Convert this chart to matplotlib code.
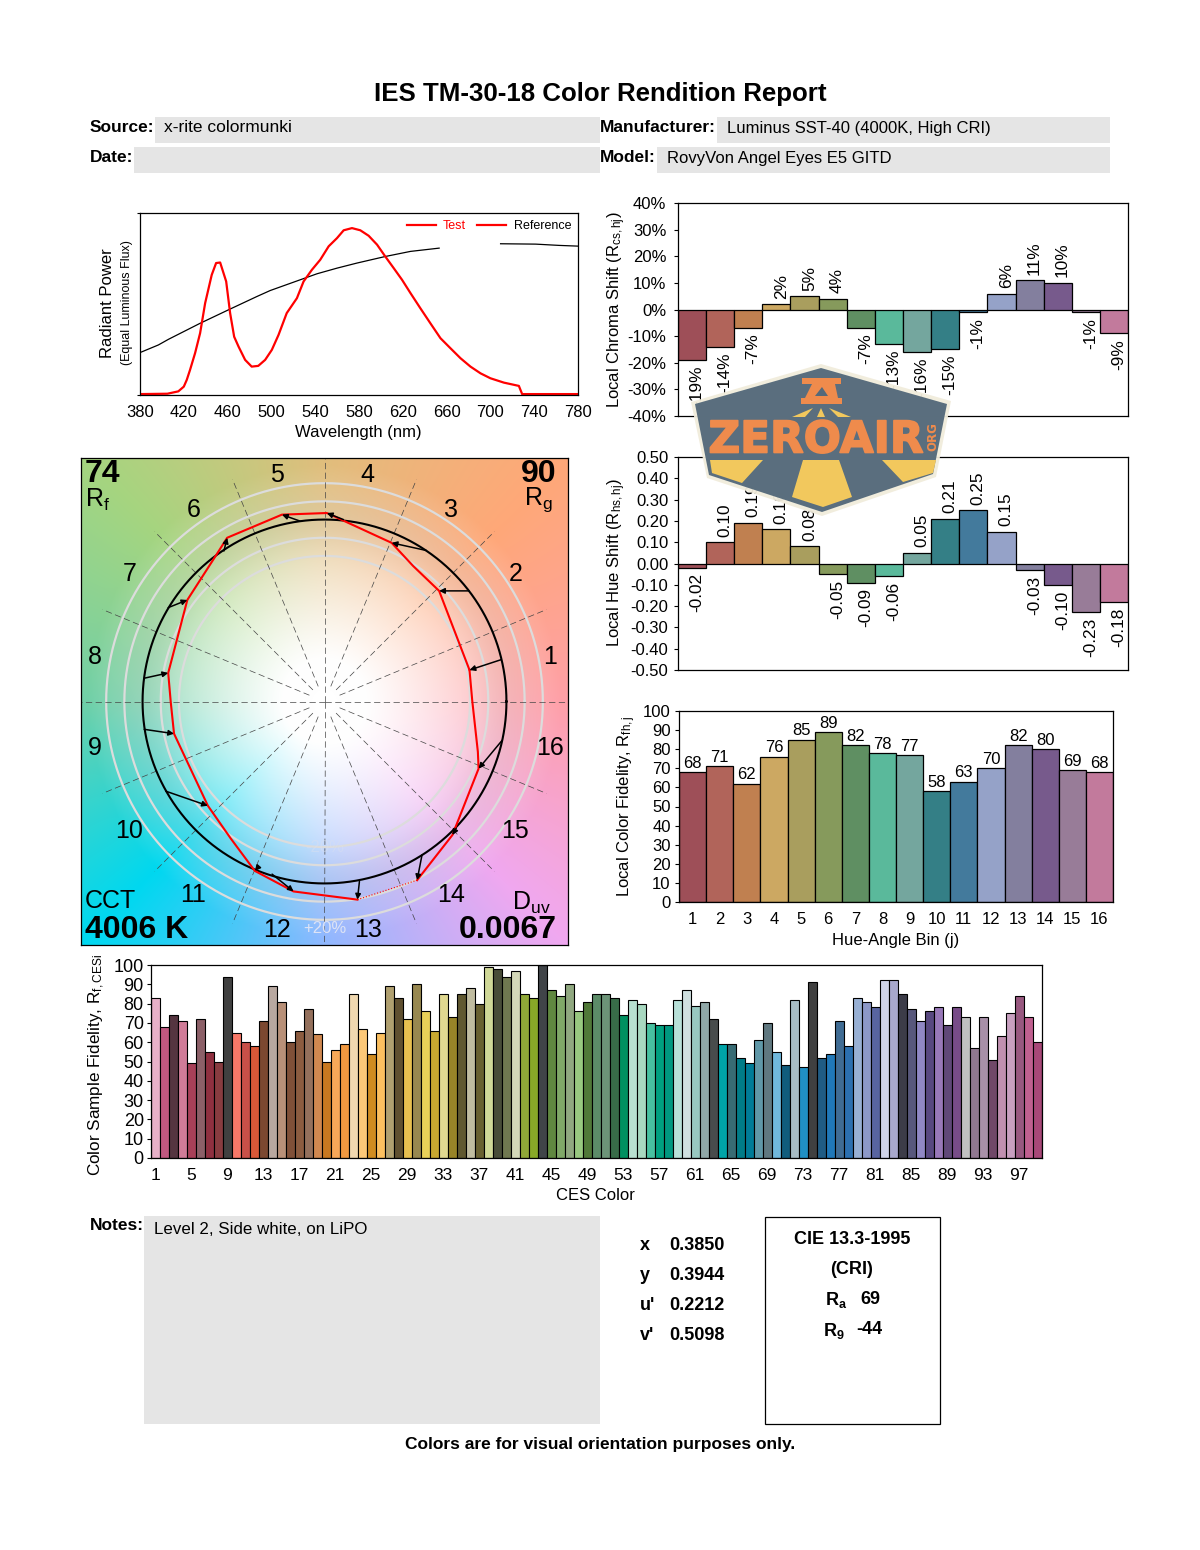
#!/usr/bin/env python3
# TM-30 colour rendition report page, all panels placed by pixel position
import numpy as np
import matplotlib
matplotlib.use("Agg")
import matplotlib.pyplot as plt
import matplotlib.patheffects as pe
from matplotlib.lines import Line2D
from matplotlib.patches import Polygon, Rectangle

plt.rcParams['font.family'] = ['Liberation Sans', 'DejaVu Sans']
plt.rcParams['mathtext.fontset'] = 'custom'
plt.rcParams['mathtext.rm'] = 'Liberation Sans'
plt.rcParams['mathtext.it'] = 'Liberation Sans:italic'
plt.rcParams['mathtext.bf'] = 'Liberation Sans:bold'
plt.rcParams['mathtext.default'] = 'rm'
plt.rcParams['axes.linewidth'] = 0.9

W, H = 1200, 1550

# spectrum
test_nm = [380, 405, 415, 420, 422.7, 425.7, 430.3, 434.9, 439.5, 445.5, 449.5, 453.2, 458.7, 462.3, 466, 470,
           476, 482, 488, 494.3, 500.4, 506.5, 514, 523.3, 529.4, 537, 544.6, 552.3, 559.9, 566, 573.6, 581.2,
           588.8, 596.5, 604, 611.7, 619.3, 627, 636, 645.2, 654.4, 663.5, 672.7, 681.8, 691, 700, 712.3, 726,
           729, 780]
test_power = [0.5, 0.7, 2, 4.6, 8.3, 13.8, 23, 34, 50.5, 66, 72.5, 72.8, 62.4, 45, 32, 26.6,
              19.3, 15.6, 16, 19.3, 24.8, 33, 45, 53.2, 62.4, 68.8, 74.3, 81.7, 86.2, 90.5, 91.7, 90.5,
              87.5, 82.6, 76.1, 69.7, 63.3, 56, 47.7, 39.4, 31.2, 25.7, 20.2, 15.6, 11.9, 9.2, 6.8, 5,
              0.5, 0.5]
ref_nm = [380, 396.8, 406, 434.9, 460.8, 486.7, 498.9, 526.3, 541.6, 559.9, 578.2, 604, 627, 653.2,
          680, 709.3, 741.3, 762.7, 780]
ref_power = [23.3, 27.5, 30.6, 39.4, 46.8, 54.1, 57.4, 63.3, 66.6, 69.7, 72.5, 76.1, 78.9, 80.7,
             np.nan, 83.1, 82.9, 82.2, 81.8]
wave_ticks = list(range(380, 781, 40))

# 16 hue bins
bins = list(range(1, 17))
bin_colors = ['#9e4f58', '#b1645a', '#c08050', '#cca862', '#a99e5e', '#869a5c', '#5f8f62', '#5ab99b',
              '#74a69e', '#347f86', '#437a9c', '#95a2c8', '#837f9e', '#775a8c', '#987c98', '#c27a9c']
chroma_shift = [-19, -14, -7, 2, 5, 4, -7, -13, -16, -15, -1, 6, 11, 10, -1, -9]
hue_shift = [-0.02, 0.10, 0.19, 0.16, 0.08, -0.05, -0.09, -0.06, 0.05, 0.21, 0.25, 0.15, -0.03, -0.10, -0.23, -0.18]
local_fidelity = [68, 71, 62, 76, 85, 89, 82, 78, 77, 58, 63, 70, 82, 80, 69, 68]

chroma_ticks = [-40, -30, -20, -10, 0, 10, 20, 30, 40]
chroma_ticklabels = ['-40%', '-30%', '-20%', '-10%', '0%', '10%', '20%', '30%', '40%']
hue_ticks = [-0.5, -0.4, -0.3, -0.2, -0.1, 0, 0.1, 0.2, 0.3, 0.4, 0.5]
hue_ticklabels = ['-0.50', '-0.40', '-0.30', '-0.20', '-0.10', '0.00', '0.10', '0.20', '0.30', '0.40', '0.50']

# 99 CES samples
ces_fidelity = [83, 68, 74, 71, 49, 72, 55, 50, 94, 65, 60, 58, 71, 89, 81, 60, 66, 77, 64, 50,
                56, 59, 85, 67, 54, 65, 89, 83, 72, 90, 76, 66, 85, 73, 85, 88, 80, 99, 98, 94,
                97, 85, 83, 100, 87, 84, 90, 76, 81, 85, 85, 83, 74, 82, 80, 70, 69, 69, 82, 87,
                79, 81, 72, 59, 59, 52, 49, 61, 70, 55, 48, 82, 47, 91, 52, 54, 71, 58, 83, 81,
                78, 92, 92, 85, 77, 71, 76, 78, 69, 78, 73, 57, 73, 51, 63, 75, 84, 73, 60]
ces_colors = ['#e8b0c8', '#c05880', '#553540', '#d07c98', '#a84058', '#8c6068', '#8f3040', '#883c40', '#404040',
              '#f87868', '#c85048', '#d85838', '#7c4830', '#b8a8a0', '#b89078', '#805038', '#8c5c40', '#94705c',
              '#d08850', '#c87820', '#f8a858', '#f09840', '#f0d8b0', '#fcc878', '#d08c20', '#fcc060', '#b0a070',
              '#605030', '#e8c050', '#988850', '#e8d058', '#c8a830', '#e0d890', '#988428', '#605830', '#c0bca0',
              '#686030', '#d0d898', '#484c38', '#707850', '#d4d8b8', '#90a838', '#88a828', '#404448', '#608840',
              '#80a868', '#90a880', '#98c880', '#507838', '#5c8c68', '#6c9478', '#386c48', '#009060', '#b8e0d0',
              '#a8d8c0', '#48c0a0', '#00a080', '#009880', '#b8e0d8', '#d0e0e0', '#98c8c0', '#90a8a8', '#484c4c',
              '#00a4a8', '#386c74', '#007c88', '#007c98', '#6098a8', '#607880', '#70b8dc', '#105c7c', '#a8bcc4',
              '#2090c4', '#404040', '#205c84', '#2078b8', '#406c94', '#2c70b0', '#98b0d4', '#8c98c8', '#5864a0',
              '#d0d4e8', '#a8a8cc', '#3c3c48', '#58587c', '#9088c4', '#584880', '#9878b8', '#604878', '#784c88',
              '#c0c0c0', '#907890', '#a890a8', '#704868', '#c090b0', '#c8a0c0', '#985880', '#c06090', '#a84878']
ces_ticks = list(range(1, 98, 4))

# colour vector graphic, reference circle radius = 1
arrow_from_x = [0.971, 0.794, 0.560, 0.104, -0.133, -0.553, -0.859, -0.991, -0.991, -0.872, -0.370, -0.288, 0.192, 0.536, 0.724, 0.976]
arrow_from_y = [0.230, 0.608, 0.830, 1.000, 0.991, 0.827, 0.516, 0.128, -0.153, -0.493, -0.916, -0.949, -0.989, -0.843, -0.697, -0.214]
arrow_to_x = [0.797, 0.630, 0.369, 0.013, -0.234, -0.535, -0.754, -0.859, -0.827, -0.641, -0.383, -0.170, 0.181, 0.509, 0.703, 0.847]
arrow_to_y = [0.173, 0.608, 0.872, 1.036, 1.027, 0.900, 0.558, 0.157, -0.177, -0.573, -0.931, -1.044, -1.089, -0.982, -0.734, -0.369]
test_x = [0.797, 0.630, 0.487, 0.369, 0.013, -0.234, -0.535, -0.599, -0.754, -0.859, -0.845, -0.827, -0.641, -0.516,
          -0.383, -0.170, 0.181]
test_y = [0.173, 0.608, 0.745, 0.872, 1.036, 1.027, 0.900, 0.799, 0.558, 0.157, -0.004, -0.177, -0.573, -0.752,
          -0.931, -1.044, -1.089]
test_x2 = [0.509, 0.703, 0.847, 0.843, 0.812, 0.797]
test_y2 = [-0.982, -0.734, -0.369, -0.277, 0.005, 0.173]
ring_radii = [0.8, 0.9, 1.1, 1.2]
hue_anchor_deg = [0, 45, 90, 135, 180, 225, 270, 315, 360]
hue_anchor_rgb = [(255, 160, 168), (255, 168, 120), (225, 190, 125), (165, 213, 128), (112, 208, 168),
                  (0, 216, 240), (144, 184, 255), (240, 168, 240), (255, 160, 168)]

fig = plt.figure(figsize=(W / 100, H / 100), dpi=100, facecolor='white')


def ax_px(left, top, right, bottom, **kw):
    return fig.add_axes([left / W, 1 - bottom / H, (right - left) / W, (bottom - top) / H], **kw)


def put(x, y, s, size=12, ha='left', va='center', **kw):
    # matplotlib centres on the full text box, so nudge to sit where the reference does
    if kw.get('rotation') == 90:
        x += 3
    else:
        y += 2
    return fig.text(x / W, 1 - y / H, s, fontsize=size, ha=ha, va=va, **kw)


# page layer for the grey boxes
page = ax_px(0, 0, W, H, zorder=-1)
page.set_xlim(0, W)
page.set_ylim(H, 0)
page.axis('off')
for (x0, y0, x1, y1) in [(155, 117, 600, 143), (134, 147, 600, 173), (717, 117, 1110, 143),
                         (657, 147, 1110, 173), (144, 1216, 600, 1424)]:
    page.add_patch(Rectangle((x0, y0), x1 - x0, y1 - y0, fc='#e5e5e5', ec='none'))
page.add_patch(Rectangle((765, 1217), 175, 207, fc='white', ec='black', lw=0.9))

put(600, 92, 'IES TM-30-18 Color Rendition Report', size=18.6, ha='center', fontweight='bold')
put(90, 126, 'Source:', size=12.5, fontweight='bold')
put(164, 126, 'x-rite colormunki', size=12.5)
put(90, 156, 'Date:', size=12.5, fontweight='bold')
put(600, 126, 'Manufacturer:', size=12.5, fontweight='bold')
put(727, 126, 'Luminus SST-40 (4000K, High CRI)', size=12)
put(600, 156, 'Model:', size=12.5, fontweight='bold')
put(667, 156, 'RovyVon Angel Eyes E5 GITD', size=12)

# spectrum
ax = ax_px(140, 213, 578, 395)
ax.plot(ref_nm, ref_power, color='black', lw=0.9)
ax.plot(test_nm, test_power, color='red', lw=1.6)
ax.set_xlim(380, 780)
ax.set_ylim(0, 100)
ax.set_xticks(wave_ticks)
ax.set_yticks([0, 100])
ax.set_yticklabels([])
ax.tick_params(axis='x', length=0, labelsize=12, pad=7)
ax.tick_params(axis='y', length=2, direction='out')
handles = [Line2D([], [], color='red', lw=1.6), Line2D([], [], color='red', lw=1.6)]
leg = ax.legend(handles, ['Test', 'Reference'], ncol=2, loc='upper right', frameon=False, fontsize=9,
                handlelength=2.3, columnspacing=0.9, handletextpad=0.6, borderaxespad=0.25, borderpad=0.3)
leg.get_texts()[0].set_color('red')
put(358, 431, 'Wavelength (nm)', ha='center')
put(104, 303, 'Radiant Power', rotation=90, ha='center')
put(124, 303, '(Equal Luminous Flux)', size=9, rotation=90, ha='center')

# chroma shift
ax = ax_px(678, 203, 1128, 416)
ax.bar(bins, chroma_shift, width=1, color=bin_colors, edgecolor='black', linewidth=0.9)
ax.set_xlim(0.5, 16.5)
ax.set_ylim(-40, 40)
ax.set_xticks([])
ax.set_yticks(chroma_ticks)
ax.set_yticklabels(chroma_ticklabels)
ax.tick_params(axis='y', length=3, labelsize=12, pad=5.5)
for b, v in zip(bins, chroma_shift):
    ax.annotate('%d%%' % v, (b, v), xytext=(3.5, 4 if v > 0 else -4), textcoords='offset points', rotation=90,
                ha='center', va='bottom' if v > 0 else 'top', fontsize=12.4,
                bbox=dict(fc='white', ec='none', pad=0.5))
put(614, 310, r'Local Chroma Shift (R$_{cs,hj}$)', rotation=90, ha='center')

# hue shift
ax = ax_px(678, 457, 1128, 670)
ax.bar(bins, hue_shift, width=1, color=bin_colors, edgecolor='black', linewidth=0.9)
ax.set_xlim(0.5, 16.5)
ax.set_ylim(-0.5, 0.5)
ax.set_xticks([])
ax.set_yticks(hue_ticks)
ax.set_yticklabels(hue_ticklabels)
ax.tick_params(axis='y', length=3, labelsize=12, pad=4)
for b, v in zip(bins, hue_shift):
    ax.annotate('%.2f' % v, (b, v), xytext=(3.5, 4 if v > 0 else -4), textcoords='offset points', rotation=90,
                ha='center', va='bottom' if v > 0 else 'top', fontsize=12.4,
                bbox=dict(fc='white', ec='none', pad=0.5))
put(614, 563, r'Local Hue Shift (R$_{hs,hj}$)', rotation=90, ha='center')

# local fidelity
ax = ax_px(679, 711, 1113, 902)
ax.bar(bins, local_fidelity, width=1, color=bin_colors, edgecolor='black', linewidth=0.9)
ax.set_xlim(0.5, 16.5)
ax.set_ylim(0, 100)
ax.set_xticks(bins)
ax.set_yticks(range(0, 101, 10))
ax.tick_params(axis='x', length=0, labelsize=12, pad=7.5)
ax.tick_params(axis='y', length=3, labelsize=12, pad=3)
for b, v in zip(bins, local_fidelity):
    ax.annotate(str(v), (b, v), xytext=(0, 1), textcoords='offset points', ha='center', va='bottom', fontsize=12)
put(624, 806, r'Local Color Fidelity, R$_{fh,j}$', rotation=90, ha='center')
put(896, 939, 'Hue-Angle Bin (j)', ha='center')

# CES fidelity
ax = ax_px(150.7, 965, 1041.7, 1158)
ax.bar(range(1, 100), ces_fidelity, width=1, color=ces_colors, edgecolor='black', linewidth=0.8)
ax.set_xlim(0.5, 99.5)
ax.set_ylim(0, 100)
ax.set_xticks(ces_ticks)
ax.set_yticks(range(0, 101, 10))
ax.tick_params(axis='x', length=0, labelsize=12.5, pad=7)
ax.tick_params(axis='y', length=3, labelsize=13, pad=2)
put(94, 1065, r'Color Sample Fidelity, R$_{f,CESi}$', size=12.3, rotation=90, ha='center')
put(595, 1194, 'CES Color', ha='center')

# colour vector graphic
ax = ax_px(80.5, 458, 568.5, 945)
lim = 244.25 / 182.5
u = np.linspace(-lim, lim, 500)
uu, vv = np.meshgrid(u, u)
rr = np.hypot(uu, vv)
tt = np.degrees(np.arctan2(vv, uu)) % 360
anchors = np.array(hue_anchor_rgb, dtype=float)
rgb = np.dstack([np.interp(tt, hue_anchor_deg, anchors[:, k]) for k in range(3)]) / 255
w = np.clip((rr - 0.22) / 1.08, 0, 1)[..., None] ** 1.1
img = rgb * w + (1 - w)
# slightly darker band round the reference circle
img = img * (1 - 0.04 * np.exp(-((rr - 1.0) / 0.16) ** 2))[..., None]
ax.imshow(img, extent=[-lim, lim, -lim, lim], origin='lower', interpolation='bilinear', zorder=0)
ax.set_xlim(-lim, lim)
ax.set_ylim(-lim, lim)
ax.set_xticks([])
ax.set_yticks([])
theta = np.linspace(0, 2 * np.pi, 361)
for rad in ring_radii:
    ax.plot(rad * np.cos(theta), rad * np.sin(theta), color='#dcdcdc', lw=1.6, zorder=1)
for k in range(16):
    a = np.radians(k * 22.5)
    start = 0.0 if k % 4 == 0 else 0.09
    end = 1.34 if k % 4 == 0 else 1.32
    ax.plot([start * np.cos(a), end * np.cos(a)], [start * np.sin(a), end * np.sin(a)],
            color='#444444', lw=0.5, ls=(0, (9, 5)), zorder=2)
ax.plot(np.cos(theta), np.sin(theta), color='black', lw=1.5, zorder=3)
ax.plot(test_x, test_y, color='red', lw=1.5, zorder=4)
ax.plot(test_x2, test_y2, color='red', lw=1.5, zorder=4)
ax.plot([test_x[-1], test_x2[0]], [test_y[-1], test_y2[0]], color='red', lw=0.8, ls=':', zorder=4)
for x0, y0, x1, y1 in zip(arrow_from_x, arrow_from_y, arrow_to_x, arrow_to_y):
    ax.annotate('', xy=(x1, y1), xytext=(x0, y0), zorder=5,
                arrowprops=dict(arrowstyle='-|>', color='black', lw=1.1, mutation_scale=8, shrinkA=0, shrinkB=0))
for b in bins:
    a = np.radians((b - 0.5) * 22.5)
    ax.text(1.275 * np.cos(a) - 0.012, 1.275 * np.sin(a) - 0.005, str(b), fontsize=18, ha='center', va='center', zorder=6)
ax.text(0, -1.25, '+20%', color='#dde3f5', fontsize=12, ha='center', va='center', zorder=6)
ax.text(0, -0.8, '-20%', color='#d8dff0', fontsize=12, ha='center', va='center', alpha=0.5, zorder=6)

put(85, 472, '74', size=23, fontweight='bold')
put(85, 498, r'R$_f$', size=18)
put(557, 472, '90', size=23, ha='right', fontweight='bold')
put(553, 498, r'R$_g$', size=18, ha='right')
put(85, 899, 'CCT', size=18)
put(85, 928, '4006 K', size=23, fontweight='bold')
put(551, 901, r'D$_{uv}$', size=18, ha='right')
put(557, 928, '0.0067', size=23, ha='right', fontweight='bold')

# bottom block
put(90, 1223, 'Notes:', size=12.5, fontweight='bold')
put(154, 1228, 'Level 2, Side white, on LiPO', size=12.2)
for y, name, val in [(1243, 'x', '0.3850'), (1273, 'y', '0.3944'), (1303, "u'", '0.2212'), (1333, "v'", '0.5098')]:
    put(640, y, name, size=13, fontweight='bold')
    put(669, y, val, size=13, fontweight='bold')
put(852, 1238, 'CIE 13.3-1995', size=13, ha='center', fontweight='bold')
put(852, 1268, '(CRI)', size=13, ha='center', fontweight='bold')
put(825, 1298, r'$\mathbf{R_a}$', size=13, fontweight='bold')
put(860, 1298, '69', size=13, fontweight='bold')
put(823, 1329, r'$\mathbf{R_9}$', size=13, fontweight='bold')
put(856, 1328, '-44', size=13, fontweight='bold')
put(600, 1442, 'Colors are for visual orientation purposes only.', size=12.5, ha='center', fontweight='bold')

# watermark badge on top of everything
logo = ax_px(0, 0, W, H, zorder=20)
logo.set_xlim(0, W)
logo.set_ylim(H, 0)
logo.axis('off')
logo.patch.set_alpha(0)
logo.add_patch(Polygon([(821, 364), (951, 401), (936, 477), (822, 516), (707, 478), (691, 402)],
                       fc='#f1ecdc', ec='none', alpha=0.95))
logo.add_patch(Polygon([(821, 368), (947, 404), (933, 474), (822, 512), (709, 475), (695, 404)],
                       fc='#54697a', ec='none', alpha=0.96))
yellow = '#f8cc5c'
orange = '#ef8b4c'
for pts in [[(710, 460), (763, 460), (742, 483), (712, 473)],
            [(803, 460), (839, 460), (852, 497), (823, 507), (792, 497)],
            [(882, 460), (936, 460), (933, 473), (903, 482)],
            [(792, 417), (813, 408), (805, 417)], [(817, 417), (821, 408), (825, 417)], [(829, 408), (851, 417), (838, 417)]]:
    logo.add_patch(Polygon(pts, fc=yellow, ec='none', alpha=0.97))
logo.add_patch(Polygon([(802, 378), (841, 378), (841, 384), (835, 384), (838, 398), (842, 398), (842, 404), (801, 404),
                        (801, 398), (805, 398), (812, 384), (802, 384)], fc=orange, ec='none'))
logo.add_patch(Polygon([(822, 387), (828, 396), (815, 396)], fc='#54697a', ec='none'))
thick = [pe.withStroke(linewidth=1.2, foreground=orange)]
logo.text(816, 440, 'ZEROAIR', color=orange, fontsize=31.5, fontweight='bold', family='DejaVu Sans',
          ha='center', va='center', path_effects=thick)
logo.text(933, 437, 'ORG', color=orange, fontsize=8.5, fontweight='bold', family='DejaVu Sans', rotation=90,
          ha='center', va='center')

fig.savefig('out.png', dpi=100)
